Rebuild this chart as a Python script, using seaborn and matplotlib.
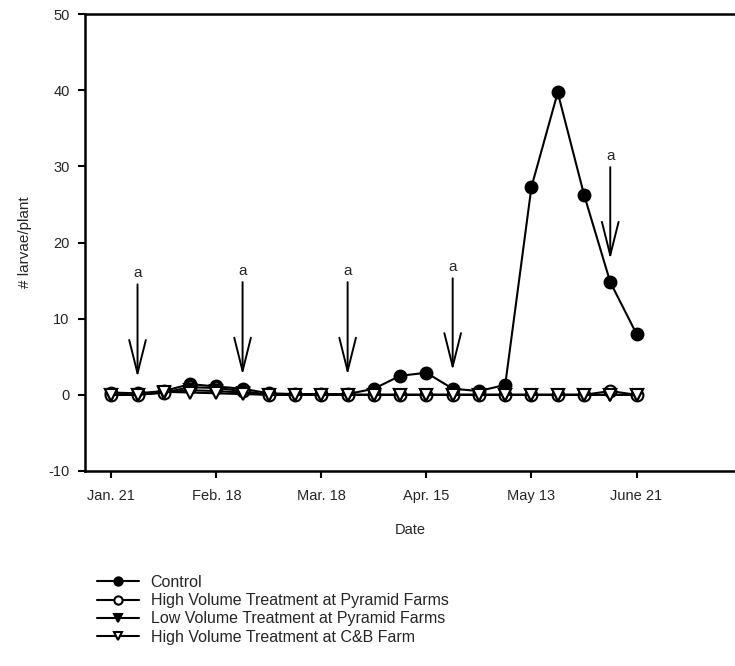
import numpy as np
import pandas as pd
import matplotlib
matplotlib.use("Agg")
import matplotlib.pyplot as plt
import seaborn as sns

# Weekly counts of larvae per plant for each treatment
control = [0.3, 0.2, 0.5, 1.4, 1.1, 0.8, 0.2, 0.1, 0.1, 0.1, 0.8, 2.5, 2.9,
           0.8, 0.5, 1.3, 27.3, 39.7, 26.3, 14.8, 8.0]
hv_pyramid = [0.0, 0.0, 0.3, 1.0, 0.9, 0.5, 0.0, 0.0, 0.0, 0.0, 0.0, 0.0, 0.0,
              0.0, 0.0, 0.0, 0.0, 0.0, 0.0, 0.5, 0.0]
lv_pyramid = [0.0, 0.0, 0.3, 0.6, 0.5, 0.3, 0.0, 0.0, 0.0, 0.0, 0.0, 0.0, 0.0,
              0.0, 0.0, 0.0, 0.0, 0.0, 0.0, 0.0, 0.0]
hv_cb = [0.0, 0.0, 0.4, 0.3, 0.2, 0.1, 0.0, 0.0, 0.0, 0.0, 0.0, 0.0, 0.0,
         0.0, 0.0, 0.0, 0.0, 0.0, 0.0, 0.0, 0.0]

series_names = ["Control",
                "High Volume Treatment at Pyramid Farms",
                "Low Volume Treatment at Pyramid Farms",
                "High Volume Treatment at C&B Farm"]

tick_labels = ["Jan. 21", "Feb. 18", "Mar. 18", "Apr. 15", "May 13", "June 21"]

# Spray applications (week index, arrow start, arrow tip, label)
spray_week = [1, 5, 9, 13, 19]
spray_top = [14.5, 14.8, 14.8, 15.3, 29.9]
spray_tip = [2.3, 2.6, 2.6, 3.2, 17.8]
spray_label = ["a", "a", "a", "a", "a"]

sns.set_style("ticks")
plt.rcParams["font.family"] = ["Liberation Sans", "DejaVu Sans"]
plt.rcParams["axes.unicode_minus"] = False

week = np.arange(len(control))
df = pd.DataFrame({
    "week": np.tile(week, 4),
    "larvae": np.concatenate([control, hv_pyramid, lv_pyramid, hv_cb]),
    "series": np.repeat(series_names, len(week)),
})

fig = plt.figure(figsize=(7.35, 6.66), dpi=100)
ax = fig.add_axes([85 / 735, 1 - 471 / 666, 1 - 85 / 735, (471 - 14) / 666])

styles = {
    series_names[0]: dict(marker="o", markerfacecolor="black", markersize=8.5),
    series_names[1]: dict(marker="o", markerfacecolor="white", markersize=8.5),
    series_names[2]: dict(marker="v", markerfacecolor="black", markersize=9),
    series_names[3]: dict(marker="v", markerfacecolor="white", markersize=9),
}

for name in series_names:
    sub = df[df["series"] == name]
    sns.lineplot(data=sub, x="week", y="larvae", ax=ax, color="black",
                 linewidth=1.5, markeredgecolor="black", markeredgewidth=1.5,
                 label=name, legend=False, **styles[name])

for x, top, tip, lab in zip(spray_week, spray_top, spray_tip, spray_label):
    ax.annotate("", xy=(x, tip), xytext=(x, top),
                arrowprops=dict(arrowstyle="->,head_length=2.4,head_width=0.6",
                                mutation_scale=10, color="black", lw=1.4,
                                shrinkA=0, shrinkB=0))
    ax.text(x, top + 0.6, lab, ha="center", va="bottom", fontsize=11)

ax.set_xlim(-1, 23.75)
ax.set_ylim(-10, 50)
ax.set_yticks(np.arange(-10, 51, 10))
ax.set_xticks(np.arange(0, len(week), 4))
ax.set_xticklabels(tick_labels)
ax.tick_params(axis="both", direction="out", length=5, width=1.5,
               labelsize=10.5, color="black")
ax.tick_params(axis="x", pad=8)
ax.tick_params(axis="y", pad=6)
ax.set_xlabel("Date", fontsize=10.5, labelpad=14)
ax.set_ylabel("# larvae/plant", fontsize=11, labelpad=12)
for side in ["left", "top", "bottom"]:
    ax.spines[side].set_linewidth(1.8)
    ax.spines[side].set_color("black")
ax.spines["right"].set_visible(False)

handles, labels = ax.get_legend_handles_labels()
fig.legend(handles, labels, loc="upper left",
           bbox_to_anchor=(97 / 735, 1 - 575 / 666), frameon=False,
           fontsize=11.5, handlelength=2.6, handletextpad=0.75,
           labelspacing=0.2, borderpad=0, borderaxespad=0, markerscale=0.7)

fig.savefig("out.png", dpi=100)
